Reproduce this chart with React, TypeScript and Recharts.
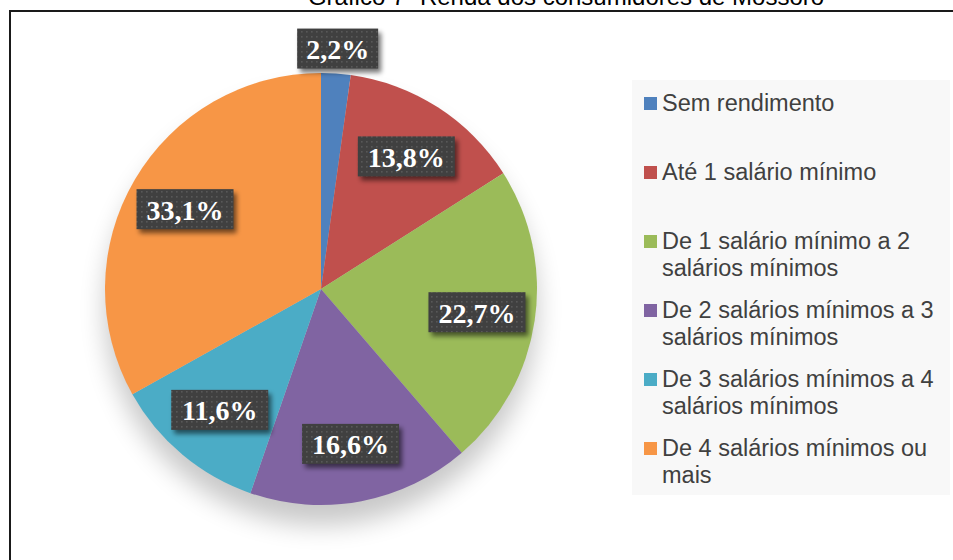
import { Legend, Pie, PieChart } from 'recharts';

const categories = [
  'Sem rendimento',
  'Até 1 salário mínimo',
  'De 1 salário mínimo a 2 salários mínimos',
  'De 2 salários mínimos a 3 salários mínimos',
  'De 3 salários mínimos a 4 salários mínimos',
  'De 4 salários mínimos ou mais',
];
const shares = [2.2, 13.8, 22.7, 16.6, 11.6, 33.1];
const colors = ['#4F81BD', '#C0504D', '#9BBB59', '#8064A2', '#4BACC6', '#F79646'];

const data = categories.map((name, i) => ({ name, value: shares[i], fill: colors[i] }));
const total = shares.reduce((a, b) => a + b, 0);

const RADIAN = Math.PI / 180;
const fmt = (v: number) => v.toFixed(1).replace('.', ',') + '%';

// Dark callout box with white serif percentage, like the Excel data label style
function renderLabel(props: any) {
  const { cx, cy, midAngle, outerRadius, value, percent } = props;
  // small slices get pushed outside the pie, the rest sit ~3/4 of the radius out
  const r = percent < 0.05 ? outerRadius + 25 : outerRadius * 0.73;
  const x = cx + r * Math.cos(-midAngle * RADIAN);
  const y = cy + r * Math.sin(-midAngle * RADIAN);
  const text = fmt(value);
  const w = text.length * 16 + 17;
  const h = 40;
  return (
    <g>
      <rect x={x - w / 2} y={y - h / 2} width={w} height={h} fill='#000' filter='url(#lblShadow)' />
      <rect x={x - w / 2} y={y - h / 2} width={w} height={h} fill='url(#dots)' />
      <text
        x={x}
        y={y + 1}
        textAnchor='middle'
        dominantBaseline='central'
        fill='#fff'
        style={{ fontFamily: '"Liberation Serif", serif', fontWeight: 700, fontSize: 28 }}
      >
        {text}
      </text>
    </g>
  );
}

function LegendBox() {
  return (
    <div
      style={{
        width: 318,
        height: 415,
        background: '#f8f8f8',
        paddingTop: 10,
        boxSizing: 'border-box',
        fontFamily: '"Liberation Sans", Arial, sans-serif',
        fontSize: 23.5,
        lineHeight: '27px',
        color: '#404040',
      }}
    >
      {categories.map((c, i) => (
        <div key={c} style={{ position: 'relative', height: 69, paddingLeft: 30 }}>
          <span
            style={{
              position: 'absolute',
              left: 12,
              top: 7,
              width: 13,
              height: 13,
              background: colors[i],
            }}
          />
          <div style={{ width: 285 }}>{c}</div>
        </div>
      ))}
    </div>
  );
}

export default function App() {
  return (
    <div
      style={{
        position: 'fixed',
        left: 0,
        top: 0,
        width: 953,
        height: 560,
        background: '#fff',
        overflow: 'hidden',
      }}
    >
      <svg width={0} height={0} style={{ position: 'absolute' }}>
        <defs>
          <pattern id='dots' width={5} height={5} patternUnits='userSpaceOnUse'>
            <rect width={5} height={5} fill='#404040' />
            <rect x={1} y={1} width={1.6} height={1.6} fill='#585858' />
          </pattern>
          <filter id='lblShadow' x='-30%' y='-30%' width='160%' height='170%'>
            <feGaussianBlur stdDeviation='2.5' />
            <feOffset dx='3' dy='4' />
            <feComponentTransfer>
              <feFuncA type='linear' slope='0.55' />
            </feComponentTransfer>
          </filter>
          <filter id='pieShadow' x='-30%' y='-30%' width='160%' height='170%'>
            <feGaussianBlur stdDeviation='13' />
            <feOffset dx='0' dy='20' />
            <feComponentTransfer>
              <feFuncA type='linear' slope='0.22' />
            </feComponentTransfer>
          </filter>
        </defs>
      </svg>

      {/* outer frame, partly cut by the page edge */}
      <div
        style={{
          position: 'absolute',
          left: 9,
          top: 10,
          width: 980,
          height: 600,
          border: '2px solid #1a1a1a',
        }}
      />

      {/* title, mostly cropped off the top as in the source image */}
      <div
        style={{
          position: 'absolute',
          left: 266,
          top: -15,
          width: 600,
          textAlign: 'center',
          fontFamily: '"Liberation Sans", Arial, sans-serif',
          fontSize: 24,
          lineHeight: '24px',
          color: '#000',
          whiteSpace: 'nowrap',
        }}
      >
        Gráfico 7- Renda dos consumidores de Mossoró
      </div>

      <div style={{ position: 'absolute', left: 0, top: 0 }}>
        <PieChart width={953} height={560} margin={{ top: 0, right: 0, bottom: 0, left: 0 }}>
          <Pie
            data={[{ name: 'total', value: total }]}
            dataKey='value'
            cx={321}
            cy={289}
            outerRadius={216}
            fill='#000'
            stroke='none'
            filter='url(#pieShadow)'
            isAnimationActive={false}
            legendType='none'
          />
          <Pie
            data={data}
            dataKey='value'
            nameKey='name'
            cx={321}
            cy={289}
            outerRadius={216}
            startAngle={90}
            endAngle={-270}
            stroke='none'
            label={renderLabel}
            labelLine={false}
            isAnimationActive={false}
          />
          <Legend
            layout='vertical'
            content={() => <LegendBox />}
            wrapperStyle={{ position: 'absolute', left: 632, top: 80, width: 318, height: 415 }}
          />
        </PieChart>
      </div>
    </div>
  );
}
